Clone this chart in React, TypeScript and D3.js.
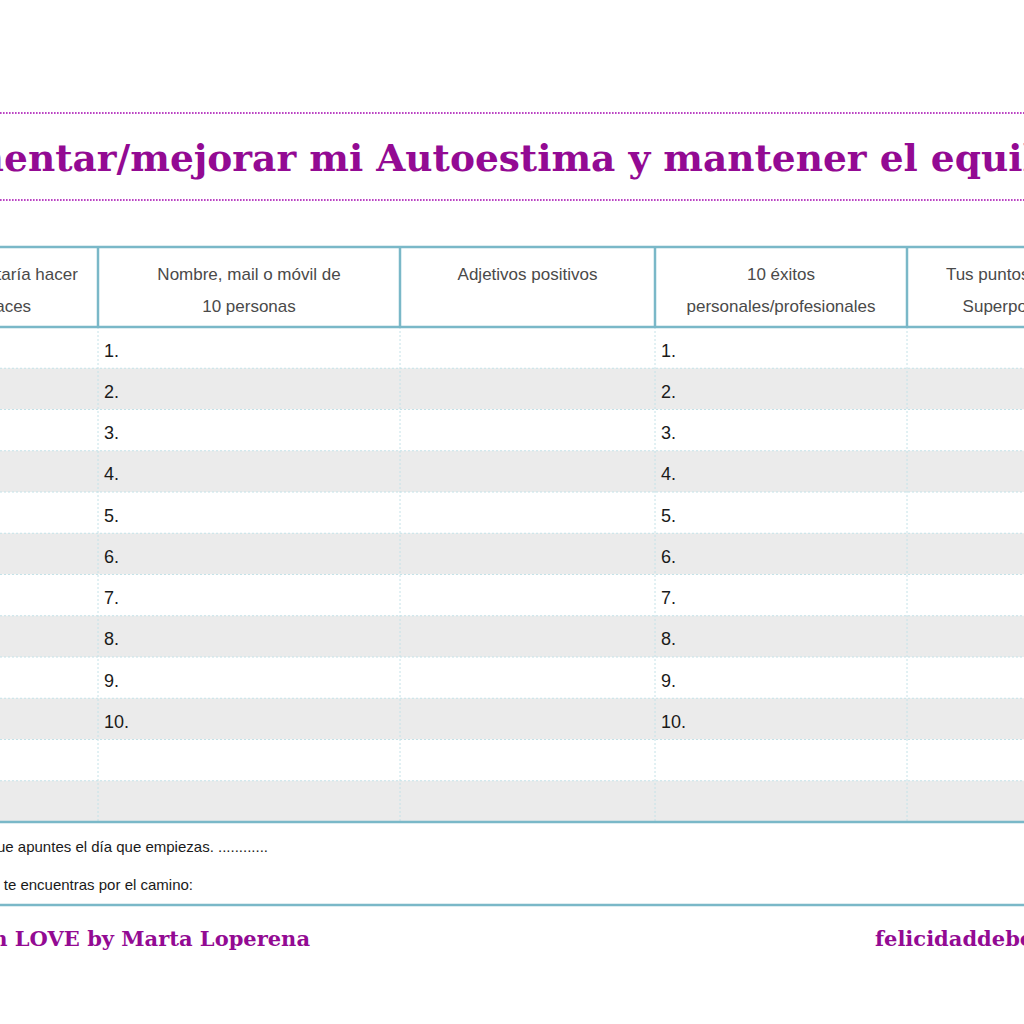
import React from "react";
import * as d3 from "d3";

const titleText = "Aumentar/mejorar mi Autoestima y mantener el equilibrio";
const headerLines: string[][] = [
  ["Lo que me gustaría hacer", "y no la haces"],
  ["Nombre, mail o móvil de", "10 personas"],
  ["Adjetivos positivos"],
  ["10 éxitos", "personales/profesionales"],
  ["Tus puntos fuertes", "Superpoderes"],
];
const numberedColumns = [1, 3];
const rowCount = 12;
const numberLabels = ["1.", "2.", "3.", "4.", "5.", "6.", "7.", "8.", "9.", "10."];
const noteLines = [
  "Es importante que apuntes el día que empiezas. ............",
  "Anota los obstáculos que te encuentras por el camino:",
];
const footerLeft = "Hecho con LOVE by Marta Loperena";
const footerRight = "felicidaddebolsillo.com";

const W = 1024;
const H = 1024;
const colEdges = [-136, 98, 400, 655, 907, 1125];
const noteEnds = [268, 193];
const PURPLE = "#930a93";
const TEAL = "#7ab8c8";
const GRID = "#c4e2e8";
const SHADE = "#ebebeb";
const HAND = "'Liberation Sans', sans-serif";
const SERIF = "'DejaVu Serif', serif";

export default function App() {
  const tableTop = 247;
  const headBottom = 327;
  const bodyBottom = 822;
  const y = d3.scaleLinear().domain([0, rowCount]).range([headBottom, bodyBottom]);
  const rows = d3.range(rowCount);
  const colCenter = (i: number) => (colEdges[i] + colEdges[i + 1]) / 2;
  const innerEdges = colEdges.slice(1, -1);

  return (
    <svg width={W} height={H} style={{ position: "fixed", left: 0, top: 0, background: "#fff" }}>
      <rect x={0} y={0} width={W} height={H} fill="#fff" />
      {/* title */}
      <line x1={0} x2={W} y1={113} y2={113} stroke="#bb44c4" strokeWidth={2} strokeDasharray="1.6 1.4" />
      <line x1={0} x2={W} y1={200} y2={200} stroke="#bb44c4" strokeWidth={2} strokeDasharray="1.6 1.4" />
      <text x={-92} y={171} fontFamily={SERIF} fontWeight="bold" fontSize={37.5} fill={PURPLE}>
        {titleText}
      </text>

      {/* row shading */}
      {rows.map((r) => (
        <rect key={"s" + r} x={0} width={W} y={y(r)} height={y(r + 1) - y(r)} fill={r % 2 === 1 ? SHADE : "#fff"} />
      ))}
      {/* dotted grid */}
      {rows.slice(1).map((r) => (
        <line key={"h" + r} x1={0} x2={W} y1={y(r)} y2={y(r)} stroke={GRID} strokeWidth={1} strokeDasharray="2 2" />
      ))}
      {innerEdges.map((x, i) => (
        <line key={"v" + i} x1={x} x2={x} y1={headBottom} y2={bodyBottom} stroke={GRID} strokeWidth={1} strokeDasharray="2 2" />
      ))}

      {/* header box */}
      <line x1={0} x2={W} y1={tableTop} y2={tableTop} stroke={TEAL} strokeWidth={2.5} />
      <line x1={0} x2={W} y1={headBottom} y2={headBottom} stroke={TEAL} strokeWidth={2.5} />
      {innerEdges.map((x, i) => (
        <line key={"hv" + i} x1={x} x2={x} y1={tableTop} y2={headBottom} stroke={TEAL} strokeWidth={2.5} />
      ))}
      {headerLines.map((lines, i) =>
        lines.map((t, j) => (
          <text key={"ht" + i + j} x={colCenter(i)} y={280 + j * 32} textAnchor="middle" fontFamily={HAND} fontSize={17} fill="#4a4a4a">
            {t}
          </text>
        ))
      )}

      {/* numbers */}
      {numberedColumns.map((c) =>
        numberLabels.map((t, r) => (
          <text key={"n" + c + r} x={colEdges[c] + 6} y={(y(r) + y(r + 1)) / 2 + 9} fontFamily={HAND} fontSize={18} fill="#1a1a1a">
            {t}
          </text>
        ))
      )}

      {/* notes */}
      <line x1={0} x2={W} y1={bodyBottom} y2={bodyBottom} stroke={TEAL} strokeWidth={2.5} />
      <line x1={0} x2={W} y1={905} y2={905} stroke={TEAL} strokeWidth={2.5} />
      {noteLines.map((t, i) => (
        <text key={"note" + i} x={noteEnds[i]} y={852 + i * 38} textAnchor="end" fontFamily={HAND} fontSize={15} fill="#1a1a1a">
          {t}
        </text>
      ))}

      {/* footer */}
      <text x={310} y={946} textAnchor="end" fontFamily={SERIF} fontWeight="bold" fontSize={21} fill={PURPLE}>
        {footerLeft}
      </text>
      <text x={875} y={946} fontFamily={SERIF} fontWeight="bold" fontSize={21} fill={PURPLE}>
        {footerRight}
      </text>
    </svg>
  );
}
